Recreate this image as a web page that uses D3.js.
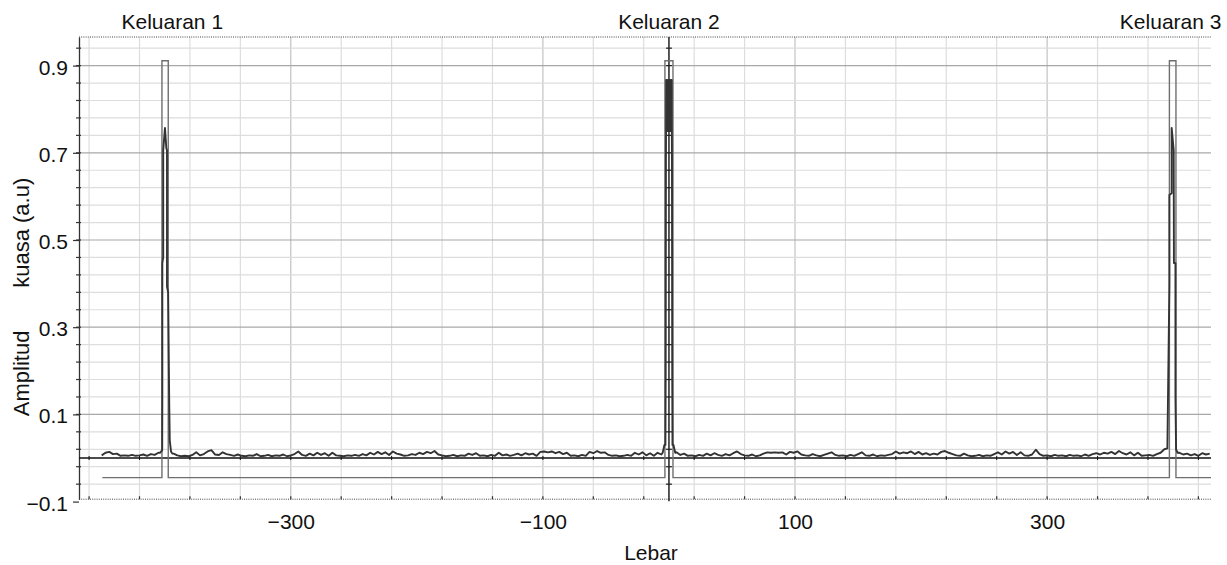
<!DOCTYPE html>
<html>
<head>
<meta charset="utf-8">
<script src="https://cdn.jsdelivr.net/npm/d3@7"></script>
<style>
  html, body { margin: 0; padding: 0; background: #fff; }
  svg { display: block; font-family: "Liberation Sans", Arial, Helvetica, sans-serif; }
</style>
</head>
<body>
<svg id="chart" width="1227" height="565"></svg>
<script>
// ---- axis settings -------------------------------------------------------
const xDomain = [-468, 430];
const yDomain = [-0.0945, 0.9656];
const xTickLabels = [-300, -100, 100, 300];
const yTickLabels = [-0.1, 0.1, 0.3, 0.5, 0.7, 0.9];
const xGridStart = -460, xGridStep = 40, xGridCount = 23;
const yGridStart = -0.1, yGridStep = 0.04, yGridCount = 27;

// ---- output port labels --------------------------------------------------
const outputNames = ["Keluaran 1", "Keluaran 2", "Keluaran 3"];
const outputLabelX = [-394, 0, 398];

// ---- rectangular reference pulses ----------------------------------------
const pulseStart = -449.5, pulseEnd = 430;
const pulseLow = -0.045, pulseHigh = 0.911;
const pulseEdges = [[-402.2, -397.2], [-3.2, 3.2], [397.0, 402.2]];

// ---- measured power: background noise, milli a.u., one sample every 3 units
const noiseStep = 3;
const noiseStartA = -450;
const noiseA = [6, 12, 14, 9, 10, 5, 6, 5, 7, 5, 6, 8, 5, 9, 7, 12];
const noiseStartB = -393;
const noiseB = [10, 6, 4, 5, 4, 7, 13, 6, 9, 15, 18, 8, 7, 13, 9, 7, 5, 8, 5, 4,
  6, 5, 9, 4, 5, 7, 4, 6, 5, 8, 4, 6, 9, 15, 7, 5, 10, 6, 12, 7,
  11, 5, 12, 6, 5, 4, 6, 5, 7, 5, 9, 6, 12, 8, 14, 9, 13, 7, 15, 10,
  8, 5, 6, 9, 7, 12, 9, 14, 11, 16, 8, 6, 4, 5, 7, 4, 6, 5, 10, 7,
  11, 5, 6, 4, 7, 5, 12, 6, 8, 5, 7, 10, 6, 11, 8, 10, 5, 14, 15, 13,
  15, 11, 14, 9, 12, 5, 6, 4, 7, 5, 14, 11, 16, 12, 13, 7, 5, 6, 4, 5,
  7, 5, 12, 8, 13, 6, 11, 5, 12, 8];
const noiseStartC = 6;
const noiseC = [13, 7, 10, 5, 6, 4, 7, 5, 10, 6, 11, 7, 5, 9, 6, 11, 15, 9, 6, 5,
  8, 4, 6, 10, 13, 12, 13, 12, 13, 8, 14, 12, 15, 8, 6, 5, 9, 6, 4, 7,
  10, 13, 7, 5, 6, 4, 7, 5, 9, 13, 6, 5, 8, 4, 6, 5, 7, 9, 15, 10,
  13, 11, 15, 9, 14, 8, 11, 7, 10, 8, 14, 16, 12, 9, 6, 5, 10, 6, 4, 5,
  7, 4, 6, 5, 9, 13, 8, 15, 10, 14, 7, 13, 6, 5, 8, 19, 9, 5, 6, 4,
  7, 5, 6, 4, 7, 5, 6, 4, 8, 5, 9, 11, 8, 12, 10, 14, 9, 16, 11, 8,
  13, 6, 12, 5, 6, 7, 5, 9, 12, 20];
const noiseStartD = 405;
const noiseD = [12, 8, 10, 6, 9, 5, 11, 8, 10];

// ---- measured power around the three outputs [position, a.u.] ------------
const peak1 = [[-403.6, 0.012], [-402.0, 0.018], [-401.9, 0.145], [-401.9, 0.447],
  [-401.2, 0.460], [-401.2, 0.706], [-399.8, 0.757], [-398.7, 0.710], [-398.2, 0.706],
  [-398.2, 0.393], [-397.3, 0.380], [-396.4, 0.120], [-396.0, 0.040], [-395.0, 0.015],
  [-394.0, 0.010]];
const peak2 = [[-5.0, 0.012], [-4.2, 0.022], [-3.6, 0.030], [-2.8, 0.030], [-2.6, 0.195],
  [-2.4, 0.690], [-2.3, 0.750], [-2.2, 0.867], [-2.0, 0.750], [-1.6, 0.867], [-1.2, 0.750],
  [-0.8, 0.867], [-0.4, 0.750], [0.0, 0.867], [0.4, 0.750], [0.8, 0.867], [1.2, 0.750],
  [1.6, 0.867], [2.0, 0.750], [2.2, 0.867], [2.3, 0.750], [2.4, 0.690], [2.6, 0.195],
  [2.8, 0.030], [3.6, 0.030], [4.2, 0.022], [5.0, 0.012]];
const peak3 = [[395.4, 0.022], [395.8, 0.118], [397.0, 0.397], [397.0, 0.603],
  [398.8, 0.607], [398.8, 0.757], [400.4, 0.706], [400.6, 0.447], [401.8, 0.447],
  [401.8, 0.140], [402.3, 0.020], [403.5, 0.012]];

// ---- layout ----------------------------------------------------------------
const plotLeft = 79, plotRight = 1211, plotTop = 37, plotBottom = 499.2;
const fontSize = 21;

const x = d3.scaleLinear().domain(xDomain).range([plotLeft, plotRight]);
const y = d3.scaleLinear().domain(yDomain).range([plotBottom, plotTop]);

const svg = d3.select("#chart");

const xGrid = d3.range(xGridCount).map(i => xGridStart + i * xGridStep);
const yGrid = d3.range(yGridCount).map(i => +(yGridStart + i * yGridStep).toFixed(2));
const yGridIn = yGrid.filter(v => v >= yDomain[0] && v <= yDomain[1]);
const isYMajor = v => yTickLabels.some(t => Math.abs(t - v) < 1e-9);
const isXMajor = v => xTickLabels.includes(v);

// grid
const grid = svg.append("g");
grid.selectAll("line.gx").data(xGrid).join("line")
  .attr("class", "gx")
  .attr("x1", d => x(d)).attr("x2", d => x(d))
  .attr("y1", plotTop).attr("y2", plotBottom)
  .attr("stroke", d => isXMajor(d) ? "#c2c2c2" : "#dddddd")
  .attr("stroke-width", 1.2);
grid.selectAll("line.gy").data(yGridIn).join("line")
  .attr("class", "gy")
  .attr("x1", plotLeft).attr("x2", plotRight)
  .attr("y1", d => y(d)).attr("y2", d => y(d))
  .attr("stroke", d => isYMajor(d) ? "#a8a8a8" : "#dddddd")
  .attr("stroke-width", 1.2);

// dotted frame top and bottom
svg.append("g").selectAll("line").data([yDomain[1], yDomain[0]]).join("line")
  .attr("x1", plotLeft).attr("x2", plotRight)
  .attr("y1", d => y(d)).attr("y2", d => y(d))
  .attr("stroke", "#444").attr("stroke-width", 1)
  .attr("stroke-dasharray", "1,1.2");

// bottom ticks
svg.append("g").selectAll("line").data(xGrid).join("line")
  .attr("x1", d => x(d)).attr("x2", d => x(d))
  .attr("y1", plotBottom - 3).attr("y2", plotBottom)
  .attr("stroke", "#333").attr("stroke-width", 1.2);

// left axis
const yAxis = d3.axisLeft(y)
  .tickValues(yTickLabels)
  .tickFormat(d3.format(".1f"))
  .tickSize(6).tickSizeOuter(0).tickPadding(5);
const gy = svg.append("g").attr("transform", `translate(${plotLeft},0)`).call(yAxis);
gy.attr("font-size", null).attr("font-family", null)
  .style("font-size", fontSize + "px");
gy.select(".domain").attr("stroke", "#333").attr("stroke-width", 1.3);
gy.selectAll(".tick line").attr("stroke", "#333").attr("stroke-width", 1.2);
gy.selectAll(".tick text").attr("dy", "0.4em").attr("fill", "#111");

// minor ticks crossing the left axis
svg.append("g").selectAll("line").data(yGridIn).join("line")
  .attr("x1", plotLeft - 3).attr("x2", plotLeft + 2)
  .attr("y1", d => y(d)).attr("y2", d => y(d))
  .attr("stroke", "#333").attr("stroke-width", 1.2);

// bottom axis labels
const xAxis = d3.axisBottom(x)
  .tickValues(xTickLabels)
  .tickFormat(d3.format("d"))
  .tickSize(0).tickPadding(15);
const gx = svg.append("g").attr("transform", `translate(0,${plotBottom})`).call(xAxis);
gx.attr("font-size", null).attr("font-family", null)
  .style("font-size", fontSize + "px");
gx.select(".domain").remove();
gx.selectAll(".tick text").attr("fill", "#111");

// axes through the origin
svg.append("line")
  .attr("x1", plotLeft).attr("x2", plotRight)
  .attr("y1", y(0)).attr("y2", y(0))
  .attr("stroke", "#111").attr("stroke-width", 1.4);
svg.append("g").selectAll("line").data(xGrid).join("line")
  .attr("x1", d => x(d)).attr("x2", d => x(d))
  .attr("y1", y(0) - 2).attr("y2", y(0) + 2)
  .attr("stroke", "#111").attr("stroke-width", 1);
svg.append("line")
  .attr("x1", x(0)).attr("x2", x(0))
  .attr("y1", plotTop).attr("y2", plotBottom + 2)
  .attr("stroke", "#222").attr("stroke-width", 1.5);
svg.append("g").selectAll("line").data(yGridIn).join("line")
  .attr("x1", x(0) - 3).attr("x2", x(0) + 3)
  .attr("y1", d => y(d)).attr("y2", d => y(d))
  .attr("stroke", "#222").attr("stroke-width", 1.2);

// reference pulses
const pulsePts = [[pulseStart, pulseLow]];
pulseEdges.forEach(([a, b]) => {
  pulsePts.push([a, pulseLow], [a, pulseHigh], [b, pulseHigh], [b, pulseLow]);
});
pulsePts.push([pulseEnd, pulseLow]);

const line = d3.line().x(d => x(d[0])).y(d => y(d[1]));

svg.append("path")
  .datum(pulsePts)
  .attr("d", line)
  .attr("fill", "none")
  .attr("stroke", "#6f6f6f")
  .attr("stroke-width", 1.4);

// measured power
const noisePts = (start, vals) => vals.map((v, i) => [start + i * noiseStep, v / 1000]);
const signal = [].concat(
  noisePts(noiseStartA, noiseA), peak1,
  noisePts(noiseStartB, noiseB), peak2,
  noisePts(noiseStartC, noiseC), peak3,
  noisePts(noiseStartD, noiseD)
);

svg.append("path")
  .datum(signal)
  .attr("d", line)
  .attr("fill", "none")
  .attr("stroke", "#333")
  .attr("stroke-width", 1.9)
  .attr("stroke-linejoin", "round");

// output labels
svg.append("g").selectAll("text").data(outputNames).join("text")
  .attr("x", (d, i) => x(outputLabelX[i]))
  .attr("y", 29)
  .attr("text-anchor", "middle")
  .style("font-size", fontSize + "px")
  .attr("fill", "#111")
  .text(d => d);

// axis titles
svg.append("text")
  .attr("x", 651).attr("y", 560)
  .attr("text-anchor", "middle")
  .style("font-size", fontSize + "px")
  .attr("fill", "#111")
  .text("Lebar");

svg.append("text")
  .attr("transform", "translate(29,297) rotate(-90)")
  .attr("text-anchor", "middle")
  .style("font-size", "22px")
  .style("white-space", "pre")
  .attr("fill", "#111")
  .text("Amplitud       kuasa (a.u)");
</script>
</body>
</html>
